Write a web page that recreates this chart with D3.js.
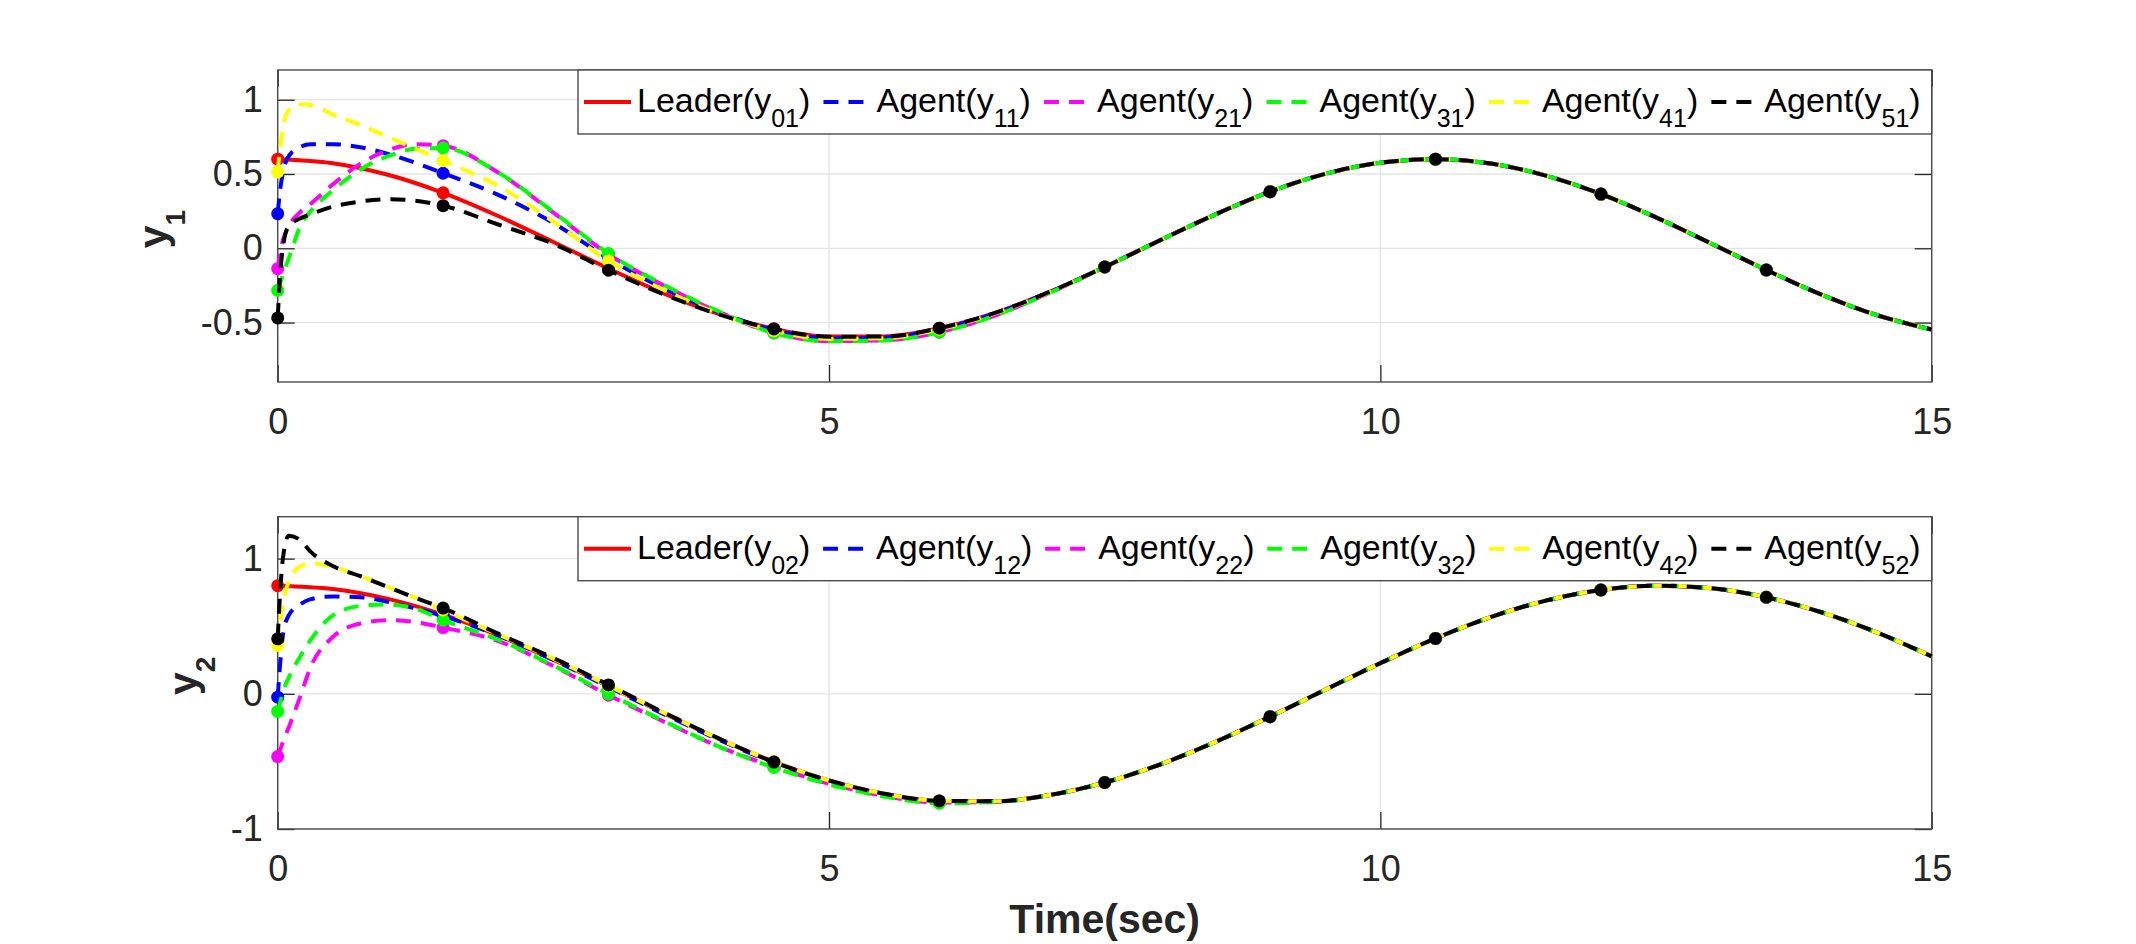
<!DOCTYPE html>
<html>
<head>
<meta charset="utf-8">
<script src="https://cdn.jsdelivr.net/npm/d3@7"></script>
<style>
  body { margin: 0; background: #fff; }
  text { font-family: "Liberation Sans", Arial, Helvetica, sans-serif; }
</style>
</head>
<body>
<div id="graph"></div>
<script>
// ---- data ----
const tLeader = [0,0.5,1,1.5,2,2.5,3,3.5,4,4.5,5,5.5,6,6.5,7,7.5,8,8.5,9,9.5,10,10.5,11,11.5,12,12.5,13,13.5,14,14.5,15];
const leader1 = [0.600,0.573,0.495,0.373,0.217,0.042,-0.136,-0.303,-0.442,-0.542,-0.594,-0.593,-0.538,-0.436,-0.294,-0.126,0.053,0.227,0.381,0.501,0.576,0.600,0.570,0.489,0.365,0.208,0.032,-0.146,-0.312,-0.449,-0.547];
const leader2 = [0.800,0.775,0.702,0.585,0.432,0.252,0.057,-0.143,-0.333,-0.503,-0.641,-0.739,-0.792,-0.795,-0.749,-0.656,-0.523,-0.357,-0.169,0.030,0.227,0.410,0.567,0.689,0.768,0.800,0.781,0.714,0.603,0.455,0.277];

// agent transients (after t=7 they sit on the leader curve)
const tAgent = [0,0.02,0.05,0.1,0.2,0.3,0.5,0.75,1,1.25,1.5,2,2.5,3,3.5,4,4.5,5,5.5,6,6.5,7];
const agent11 = [0.233,0.38,0.52,0.62,0.68,0.70,0.70,0.68,0.635,0.575,0.505,0.36,0.17,-0.07,-0.27,-0.43,-0.55,-0.605,-0.60,-0.545,-0.44,-0.295];
const agent21 = [-0.137,-0.03,0.06,0.15,0.24,0.30,0.43,0.57,0.66,0.70,0.69,0.51,0.24,-0.04,-0.25,-0.43,-0.57,-0.625,-0.62,-0.565,-0.455,-0.30];
const agent31 = [-0.283,-0.24,-0.17,-0.07,0.14,0.25,0.39,0.53,0.62,0.67,0.675,0.51,0.245,-0.035,-0.245,-0.425,-0.57,-0.625,-0.62,-0.565,-0.455,-0.30];
const agent41 = [0.514,0.66,0.82,0.93,0.97,0.965,0.90,0.83,0.75,0.67,0.59,0.42,0.18,-0.085,-0.28,-0.44,-0.555,-0.61,-0.605,-0.545,-0.44,-0.296];
const agent51 = [-0.469,-0.2,0.02,0.15,0.2,0.23,0.28,0.315,0.33,0.32,0.287,0.16,0.03,-0.148,-0.31,-0.445,-0.543,-0.595,-0.594,-0.538,-0.436,-0.294];

const agent12 = [-0.025,0.2,0.45,0.58,0.66,0.70,0.72,0.715,0.68,0.63,0.575,0.43,0.25,0.05,-0.15,-0.34,-0.51,-0.645,-0.742,-0.793,-0.795,-0.749];
const agent22 = [-0.464,-0.42,-0.35,-0.25,-0.03,0.2,0.42,0.52,0.545,0.53,0.49,0.39,0.205,-0.01,-0.205,-0.39,-0.54,-0.665,-0.755,-0.805,-0.80,-0.75];
const agent32 = [-0.13,-0.07,0.02,0.12,0.27,0.40,0.58,0.65,0.66,0.63,0.545,0.40,0.21,0.0,-0.20,-0.39,-0.545,-0.67,-0.76,-0.81,-0.80,-0.75];
const agent42 = [0.358,0.5,0.68,0.83,0.94,0.965,0.94,0.87,0.79,0.71,0.62,0.44,0.26,0.06,-0.14,-0.333,-0.503,-0.641,-0.739,-0.792,-0.795,-0.749];
const agent52 = [0.407,0.72,1.02,1.17,1.14,1.05,0.945,0.87,0.79,0.71,0.634,0.445,0.265,0.066,-0.138,-0.33,-0.505,-0.641,-0.739,-0.792,-0.795,-0.749];

const markerTimes = [0,1.5,3,4.5,6,7.5,9,10.5,12,13.5];
const xTicks = [0,5,10,15];
const yTicks1 = [-0.5,0,0.5,1];
const yTicks2 = [-1,0,1];
const colors = ["#ff0000","#0000ff","#ff00ff","#00ff00","#ffff00","#000000"];
const legendNames = ["Leader(y","Agent(y","Agent(y","Agent(y","Agent(y","Agent(y"];
const legendSubs1 = ["01","11","21","31","41","51"];
const legendSubs2 = ["02","12","22","32","42","52"];

// ---- layout ----
const W = 2136, H = 944;
const left = 277.7, right = 1931.7;
const dash = "15,10";

const svg = d3.select("#graph").append("svg")
  .attr("width", W).attr("height", H)
  .style("background", "#fff");

const x = d3.scaleLinear().domain([0, 15]).range([left, right]);

function buildSeries(lead, agents) {
  const leadPts = tLeader.map((t, i) => ({t: t, v: lead[i]}));
  const tail = leadPts.filter(d => d.t > 7);
  const out = [leadPts];
  agents.forEach(a => {
    out.push(tAgent.map((t, i) => ({t: t, v: a[i]})).concat(tail));
  });
  return out;
}

function panel(cfg) {
  const g = svg.append("g");
  const y = d3.scaleLinear().domain(cfg.yDomain).range([cfg.bottom, cfg.top]);

  // grid
  g.selectAll(".gx").data(xTicks).join("line")
    .attr("x1", d => x(d)).attr("x2", d => x(d))
    .attr("y1", cfg.top).attr("y2", cfg.bottom)
    .attr("stroke", "#e3e3e3").attr("stroke-width", 1.3);
  g.selectAll(".gy").data(cfg.yTicks).join("line")
    .attr("x1", left).attr("x2", right)
    .attr("y1", d => y(d)).attr("y2", d => y(d))
    .attr("stroke", "#e3e3e3").attr("stroke-width", 1.3);

  // axes, ticks pointing inward
  const axB = g.append("g").attr("transform", `translate(0,${cfg.bottom})`)
    .call(d3.axisBottom(x).tickValues(xTicks).tickSize(-17).tickPadding(26).tickFormat(d => String(d)));
  const axL = g.append("g").attr("transform", `translate(${left},0)`)
    .call(d3.axisLeft(y).tickValues(cfg.yTicks).tickSize(-17).tickPadding(15).tickFormat(d => String(d)));
  const axT = g.append("g").attr("transform", `translate(0,${cfg.top})`)
    .call(d3.axisTop(x).tickValues(xTicks).tickSize(-17).tickFormat(""));
  const axR = g.append("g").attr("transform", `translate(${right},0)`)
    .call(d3.axisRight(y).tickValues(cfg.yTicks).tickSize(-17).tickFormat(""));
  [axB, axL, axT, axR].forEach(a => {
    a.select(".domain").remove();
    a.selectAll(".tick line").attr("stroke", "#262626").attr("stroke-width", 1.3);
    a.selectAll(".tick text").attr("fill", "#262626")
      .style("font-size", "36px")
      .style("font-family", '"Liberation Sans", Arial, sans-serif');
  });

  g.append("rect")
    .attr("x", left).attr("y", cfg.top)
    .attr("width", right - left).attr("height", cfg.bottom - cfg.top)
    .attr("fill", "none").attr("stroke", "#4a4a4a").attr("stroke-width", 1.4);

  // y label
  const yl = g.append("text")
    .attr("transform", `translate(${cfg.ylabelX},${(cfg.top + cfg.bottom) / 2 + 3}) rotate(-90)`)
    .attr("text-anchor", "middle")
    .attr("font-weight", "bold").attr("fill", "#262626")
    .style("font-size", "41px");
  yl.append("tspan").text("y");
  yl.append("tspan").attr("dy", 18).style("font-size", "28px").text(cfg.ylabelSub);

  // series
  const line = d3.line()
    .x(d => x(d.t)).y(d => y(d.v))
    .curve(d3.curveMonotoneX);

  cfg.series.forEach((s, i) => {
    g.append("path")
      .datum(s)
      .attr("d", line)
      .attr("fill", "none")
      .attr("stroke", colors[i])
      .attr("stroke-width", 4)
      .attr("stroke-dasharray", i === 0 ? null : dash);
    g.selectAll(null)
      .data(s.filter(d => markerTimes.includes(d.t)))
      .join("circle")
      .attr("cx", d => x(d.t)).attr("cy", d => y(d.v))
      .attr("r", 6.5)
      .attr("fill", colors[i]);
  });

  // legend
  const lx0 = 578, lx1 = right, lh = 64;
  const lg = g.append("g");
  lg.append("rect")
    .attr("x", lx0).attr("y", cfg.top)
    .attr("width", lx1 - lx0).attr("height", lh)
    .attr("fill", "#fff").attr("stroke", "#4a4a4a").attr("stroke-width", 1.4);

  const items = legendNames.map((name, i) => {
    const it = lg.append("g");
    it.append("line")
      .attr("x1", 0).attr("x2", i === 0 ? 47 : 41)
      .attr("y1", cfg.top + 32).attr("y2", cfg.top + 32)
      .attr("stroke", colors[i]).attr("stroke-width", 4)
      .attr("stroke-dasharray", i === 0 ? null : dash);
    const tx = it.append("text")
      .attr("x", 53).attr("y", cfg.top + 42)
      .attr("fill", "#000")
      .style("font-size", "34px");
    tx.append("tspan").text(name);
    tx.append("tspan").attr("dy", 15).style("font-size", "25px").text(cfg.subs[i]);
    tx.append("tspan").attr("dy", -15).text(")");
    return {g: it, w: 53 + tx.node().getComputedTextLength()};
  });
  const padL = 6, padR = 11;
  const used = d3.sum(items, d => d.w);
  const gap = (lx1 - lx0 - padL - padR - used) / (items.length - 1);
  let cx = lx0 + padL;
  items.forEach(d => {
    d.g.attr("transform", `translate(${cx},0)`);
    cx += d.w + gap;
  });
}

panel({
  top: 70, bottom: 382, yDomain: [-0.9, 1.2], yTicks: yTicks1,
  ylabelX: 167, ylabelSub: "1", subs: legendSubs1,
  series: buildSeries(leader1, [agent11, agent21, agent31, agent41, agent51])
});
panel({
  top: 516.7, bottom: 829, yDomain: [-1, 1.31], yTicks: yTicks2,
  ylabelX: 197, ylabelSub: "2", subs: legendSubs2,
  series: buildSeries(leader2, [agent12, agent22, agent32, agent42, agent52])
});

// x label
svg.append("text")
  .attr("x", (left + right) / 2).attr("y", 933)
  .attr("text-anchor", "middle")
  .attr("font-weight", "bold").attr("fill", "#262626")
  .style("font-size", "41px")
  .text("Time(sec)");
</script>
</body>
</html>
